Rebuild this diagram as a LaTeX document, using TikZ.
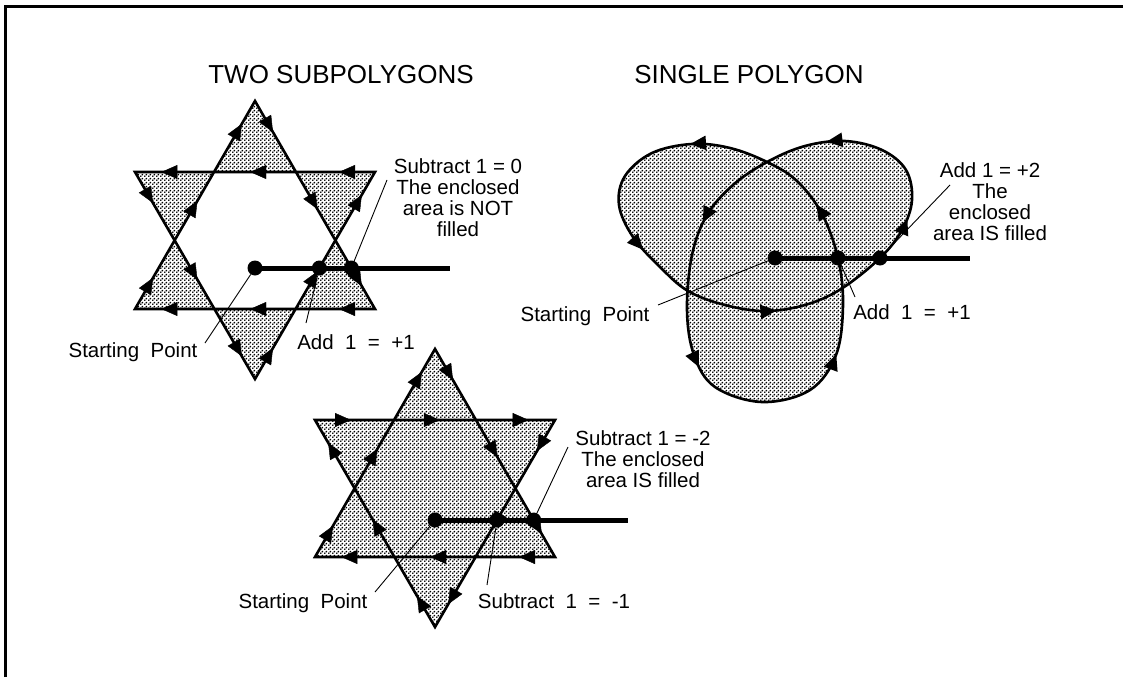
\documentclass[tikz,border=0pt]{standalone}
\usepackage{fontspec}
\setmainfont{Liberation Sans}
\usetikzlibrary{arrows.meta, decorations.markings, patterns}

\pgfdeclarepatternformonly{finedots}{\pgfpointorigin}{\pgfpoint{4pt}{4pt}}{\pgfpoint{4pt}{4pt}}{%
  \pgfpathcircle{\pgfpoint{1pt}{1pt}}{1.15pt}%
  \pgfpathcircle{\pgfpoint{3pt}{3pt}}{1.15pt}%
  \pgfusepath{fill}}

\begin{document}
\begin{tikzpicture}[
    x=1pt, y=-1pt,
    font=\fontsize{20.5}{21}\selectfont,
    outline/.style={line width=2.6pt, line join=miter, preaction={pattern=finedots}},
    ray/.style={line width=5pt},
    dot/.style={circle, fill=black, inner sep=0pt, minimum size=15pt},
    leader/.style={line width=0.9pt},
    note/.style={align=center, inner sep=0pt},
    heading/.style={font=\fontsize{26}{28}\selectfont, inner sep=0pt},
    head/.tip={Triangle[length=16pt, width=14pt]},
    triarrows/.style={postaction={decorate}, decoration={markings,
        mark=at position 0.15 with {\arrow{head}},
        mark=at position 0.52 with {\arrow{head}},
        mark=at position 0.89 with {\arrow{head}}}},
    polyarrows/.style={postaction={decorate}, decoration={markings,
        mark=at position 0.029 with {\arrow{head}},
        mark=at position 0.142 with {\arrow{head}},
        mark=at position 0.252 with {\arrow{head}},
        mark=at position 0.372 with {\arrow{head}},
        mark=at position 0.472 with {\arrow{head}},
        mark=at position 0.582 with {\arrow{head}},
        mark=at position 0.689 with {\arrow{head}},
        mark=at position 0.812 with {\arrow{head}},
        mark=at position 0.924 with {\arrow{head}}}}
]
\useasboundingbox (0,0) rectangle (1123,677);

% Frame
\draw[line width=3pt, line join=miter] (5.5,677) -- (5.5,7) -- (1123,7);

% Titles
\node[heading] (title1) at (341,75) {TWO SUBPOLYGONS};
\node[heading] (title2) at (749,75) {SINGLE POLYGON};

% Two subpolygons
\coordinate (a1) at (375,172); \coordinate (a2) at (135,172); \coordinate (a3) at (255,379);
\coordinate (b1) at (375,309); \coordinate (b2) at (135,309); \coordinate (b3) at (255,101);
\draw[outline] (a1) -- (a2) -- (a3) -- cycle (b1) -- (b2) -- (b3) -- cycle;
\foreach \p/\q in {a1/a2, a2/a3, a3/a1, b1/b2, b2/b3, b3/b1}
    \path[triarrows] (\p) -- (\q);

\coordinate (st1) at (255,268); \coordinate (en1) at (450,268);
\draw[ray] (st1) -- (en1);
\node[dot] (s1) at (st1) {};
\node[dot] (x1a) at (intersection of a3--a1 and st1--en1) {};
\node[dot] (x1b) at (intersection of b3--b1 and st1--en1) {};

% Stacked subpolygons
\coordinate (c1) at (315,420); \coordinate (c2) at (555,420); \coordinate (c3) at (435,627);
\coordinate (e1) at (555,557); \coordinate (e2) at (315,557); \coordinate (e3) at (435,349);
\draw[outline] (c1) -- (c2) -- (c3) -- cycle (e1) -- (e2) -- (e3) -- cycle;
\foreach \p/\q in {c1/c2, c2/c3, c3/c1, e1/e2, e2/e3, e3/e1}
    \path[triarrows] (\p) -- (\q);

\coordinate (st2) at (435,520); \coordinate (en2) at (628,520);
\draw[ray] (st2) -- (en2);
\node[dot] (s2) at (st2) {};
\node[dot] (x2a) at (intersection of c2--c3 and st2--en2) {};
\node[dot] (x2b) at (intersection of e3--e1 and st2--en2) {};

% Single polygon
\draw[outline, polyarrows] plot[smooth cycle, tension=0.6] coordinates {
    (767,162) (730,148) (692,144) (652,153) (625,176) (619,205) (633,237)
    (660,267) (688,291) (725,305) (765,311) (805,305) (841,289) (880,258)
    (902,230) (912,200) (906,170) (882,150) (845,141) (805,146) (767,162)
    (733,185) (707,215) (692,255) (687,310) (694,355) (715,387) (762,402)
    (810,390) (836,355) (843,305) (838,258) (822,214) (797,181)};

\coordinate (st3) at (775,258); \coordinate (en3) at (970,258);
\draw[ray] (st3) -- (en3);
\node[dot] (s3) at (st3) {};
\node[dot] (x3a) at (838,258) {};
\node[dot] (x3b) at (880,258) {};

% Labels
\node[note] (sub0) at (458,198) {Subtract 1 = 0\\The enclosed\\area is NOT\\filled};
\node[note] (add1) at (356,342) {Add\ \ 1\ \ =\ \ +1};
\node[note] (start1) at (133,352) {Starting\ \ Point};
\node[note] (sub2) at (643,459) {Subtract 1 = -2\\The enclosed\\area IS filled};
\node[note] (sub1) at (554,601) {Subtract\ \ 1\ \ =\ \ -1};
\node[note] (start2) at (303,603) {Starting\ \ Point};
\node[note] (add2) at (990,202) {Add 1 = +2\\The\\enclosed\\area IS filled};
\node[note] (add3) at (912,312) {Add\ \ 1\ \ =\ \ +1};
\node[note] (start3) at (585,316) {Starting\ \ Point};

% Leaders
\coordinate (l1) at (387,180); \coordinate (l2) at (306,323); \coordinate (l3) at (205,343);
\coordinate (l4) at (568,447); \coordinate (l5) at (487,585); \coordinate (l6) at (375,592);
\coordinate (l7) at (950,185); \coordinate (l8) at (855,297); \coordinate (l9) at (658,305);
\draw[leader] (x1b) -- (l1);
\draw[leader] (x1a) -- (l2);
\draw[leader] (s1) -- (l3);
\draw[leader] (x2b) -- (l4);
\draw[leader] (x2a) -- (l5);
\draw[leader] (s2) -- (l6);
\draw[leader] (x3b) -- (l7);
\draw[leader] (x3a) -- (l8);
\draw[leader] (s3) -- (l9);

\end{tikzpicture}
\end{document}
